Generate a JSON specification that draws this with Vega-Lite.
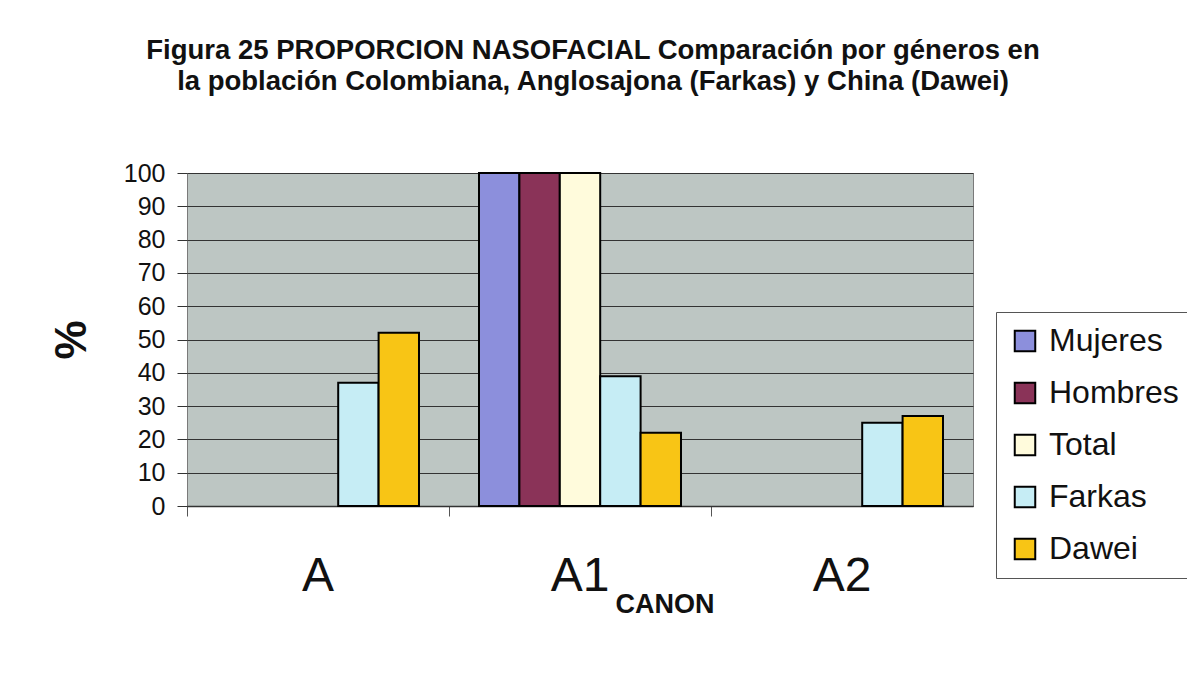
{
  "$schema": "https://vega.github.io/schema/vega-lite/v6.json",
  "width": 786,
  "height": 333,
  "autosize": {"type": "none"},
  "padding": {"left": 187, "top": 173, "right": 214, "bottom": 174},
  "background": "white",
  "title": {
    "text": ["Figura 25 PROPORCION NASOFACIAL Comparación por géneros en", "la población Colombiana, Anglosajona (Farkas) y China (Dawei)"],
    "anchor": "middle",
    "dx": 13,
    "offset": 66,
    "font": "Liberation Sans",
    "fontSize": 27.5,
    "fontWeight": "bold",
    "lineHeight": 31,
    "color": "#111"
  },
  "config": {
    "view": {"fill": "#bdc6c3", "stroke": "#7a7a7a", "strokeWidth": 1},
    "font": "Liberation Sans",
    "axisY": {
      "values": [0, 10, 20, 30, 40, 50, 60, 70, 80, 90, 100],
      "labelOverlap": false,
      "labelFontSize": 25,
      "labelColor": "#111",
      "labelPadding": 12,
      "tickSize": 10,
      "tickColor": "#333",
      "domain": false,
      "grid": true,
      "gridColor": "#333",
      "gridWidth": 1,
      "gridOpacity": 1,
      "titleFontSize": 44,
      "titleFontWeight": "bold",
      "titleColor": "#111",
      "titlePadding": 29
    }
  },
  "datasets": {
    "bars": [
      {"grupo": "A", "serie": "Farkas", "valor": 37},
      {"grupo": "A", "serie": "Dawei", "valor": 52},
      {"grupo": "A1", "serie": "Mujeres", "valor": 100},
      {"grupo": "A1", "serie": "Hombres", "valor": 100},
      {"grupo": "A1", "serie": "Total", "valor": 100},
      {"grupo": "A1", "serie": "Farkas", "valor": 39},
      {"grupo": "A1", "serie": "Dawei", "valor": 22},
      {"grupo": "A2", "serie": "Farkas", "valor": 25},
      {"grupo": "A2", "serie": "Dawei", "valor": 27}
    ],
    "sub": [
      {"grupo": "A1", "texto": "CANON"}
    ]
  },
  "layer": [
    {
      "data": {"name": "bars"},
      "mark": {"type": "bar", "stroke": "#000", "strokeWidth": 2},
      "encoding": {
        "x": {
          "field": "grupo",
          "type": "nominal",
          "sort": ["A", "A1", "A2"],
          "scale": {"domain": ["A", "A1", "A2"], "paddingInner": 0, "paddingOuter": 0},
          "axis": {
            "title": null,
            "labelAngle": 0,
            "labelFontSize": 48,
            "labelColor": "#111",
            "labelBaseline": "alphabetic",
            "labelPadding": 74,
            "bandPosition": 0,
            "ticks": true,
            "tickSize": 10,
            "tickColor": "#555",
            "domain": true,
            "domainColor": "#333",
            "domainWidth": 1.5,
            "grid": false
          }
        },
        "xOffset": {
          "field": "serie",
          "type": "nominal",
          "scale": {"domain": ["Mujeres", "Hombres", "Total", "Farkas", "Dawei"], "paddingInner": 0, "paddingOuter": 0.7426}
        },
        "y": {
          "field": "valor",
          "type": "quantitative",
          "scale": {"domain": [0, 100], "nice": false},
          "axis": {"title": "%", "values": [0, 10, 20, 30, 40, 50, 60, 70, 80, 90, 100]}
        },
        "color": {
          "field": "serie",
          "type": "nominal",
          "scale": {
            "domain": ["Mujeres", "Hombres", "Total", "Farkas", "Dawei"],
            "range": ["#8c8fdc", "#8a3358", "#fffbdc", "#c6edf5", "#f8c515"]
          },
          "legend": {
            "title": null,
            "orient": "none",
            "legendX": 809,
            "legendY": 139,
            "padding": 13,
            "strokeColor": "#555",
            "fillColor": "white",
            "symbolType": "square",
            "symbolSize": 420,
            "symbolStrokeColor": "#000",
            "symbolStrokeWidth": 2,
            "symbolOpacity": 1,
            "labelFontSize": 32,
            "labelColor": "#111",
            "labelOffset": 8,
            "rowPadding": 20,
            "labelLimit": 300
          }
        }
      }
    },
    {
      "data": {"name": "sub"},
      "mark": {"type": "text", "font": "Liberation Sans", "fontSize": 27, "fontWeight": "bold", "color": "#111", "align": "center", "baseline": "alphabetic", "dx": 85, "dy": 107, "clip": false},
      "encoding": {
        "x": {"field": "grupo", "type": "nominal"},
        "y": {"datum": 0, "type": "quantitative", "axis": {"title": "%", "values": [0, 10, 20, 30, 40, 50, 60, 70, 80, 90, 100]}},
        "text": {"field": "texto"}
      }
    }
  ]
}
